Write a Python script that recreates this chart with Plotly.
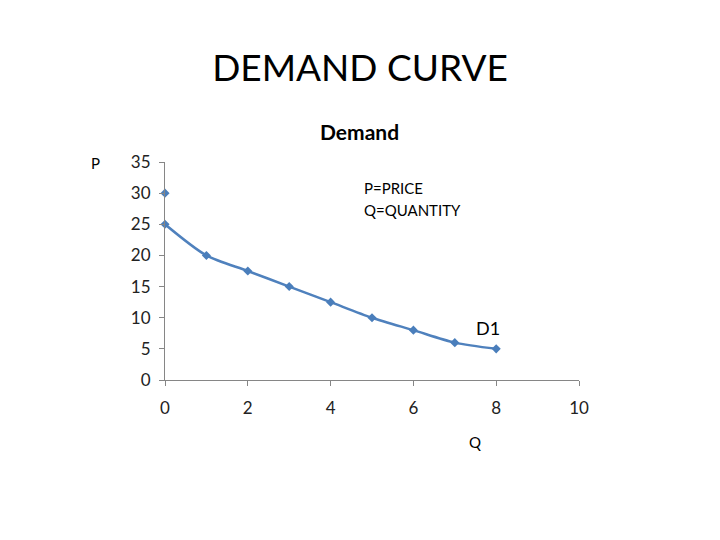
import plotly.graph_objects as go

quantity = [0, 1, 2, 3, 4, 5, 6, 7, 8]
price = [25, 20, 17.5, 15, 12.5, 10, 8, 6, 5]
extra_q = [0]
extra_p = [30]
x_ticks = [0, 2, 4, 6, 8, 10]
y_ticks = [0, 5, 10, 15, 20, 25, 30, 35]

line_color = "#4f81bd"
axis_color = "#868686"
font_family = "Lato, Open Sans, sans-serif"

# page body has an 8px default margin; offsets compensate
fig = go.Figure()
fig.add_trace(go.Scatter(
    x=quantity, y=price, mode="lines+markers",
    line=dict(color=line_color, width=2.5, shape="spline", smoothing=0.8),
    marker=dict(symbol="diamond", size=7, color="#4a7ebb"),
    cliponaxis=False, showlegend=False,
))
fig.add_trace(go.Scatter(
    x=extra_q, y=extra_p, mode="markers",
    marker=dict(symbol="diamond", size=7, color="#4a7ebb"),
    cliponaxis=False, showlegend=False,
))

fig.update_layout(
    width=720, height=540,
    paper_bgcolor="white", plot_bgcolor="white",
    margin=dict(l=157, r=149, t=154, b=168),
    font=dict(family=font_family, color="#222222"),
    title=dict(text="DEMAND CURVE", x=(360 - 8) / 720, xanchor="center", y=1 - 60 / 540,
               yanchor="middle", font=dict(size=37, color="black", family=font_family)),
    xaxis=dict(range=[0, 10], tickvals=x_ticks, showgrid=False, zeroline=False,
               showline=True, linecolor=axis_color, linewidth=1,
               ticks="outside", ticklen=5, tickcolor=axis_color, ticklabelstandoff=8,
               tickfont=dict(size=17, color="#222222"), fixedrange=True),
    yaxis=dict(range=[0, 35], tickvals=y_ticks, showgrid=False, zeroline=False,
               showline=True, linecolor=axis_color, linewidth=1,
               ticks="outside", ticklen=5, tickcolor=axis_color, ticklabelstandoff=5,
               tickfont=dict(size=17, color="#222222"), fixedrange=True),
)

fig.add_annotation(text="<b>Demand</b>", xref="paper", yref="paper", x=(359 - 165) / 414,
                   y=(380 - 131) / 218, showarrow=False, font=dict(size=21, color="black"),
                   xanchor="center", yanchor="middle")
fig.add_annotation(text="P=PRICE", xref="paper", yref="paper", x=(362 - 165) / 414,
                   y=(380 - 188) / 218, showarrow=False,
                   xanchor="left", yanchor="middle", font=dict(size=15, color="black"))
fig.add_annotation(text="Q=QUANTITY", xref="paper", yref="paper", x=(362 - 165) / 414,
                   y=(380 - 210) / 218, showarrow=False,
                   xanchor="left", yanchor="middle", font=dict(size=15, color="black"))
fig.add_annotation(text="D1", x=7.8, y=8.3, showarrow=False, xanchor="center",
                   yanchor="middle", font=dict(size=18, color="black"))
fig.add_annotation(text="P", xref="paper", yref="paper", x=(95 - 165) / 414,
                   y=(380 - 163) / 218, showarrow=False, xanchor="center",
                   yanchor="middle", font=dict(size=15, color="black"))
fig.add_annotation(text="Q", xref="paper", yref="paper", x=(475 - 165) / 414,
                   y=(380 - 442) / 218, showarrow=False, xanchor="center",
                   yanchor="middle", font=dict(size=15, color="black"))

fig.write_html("out.html")
